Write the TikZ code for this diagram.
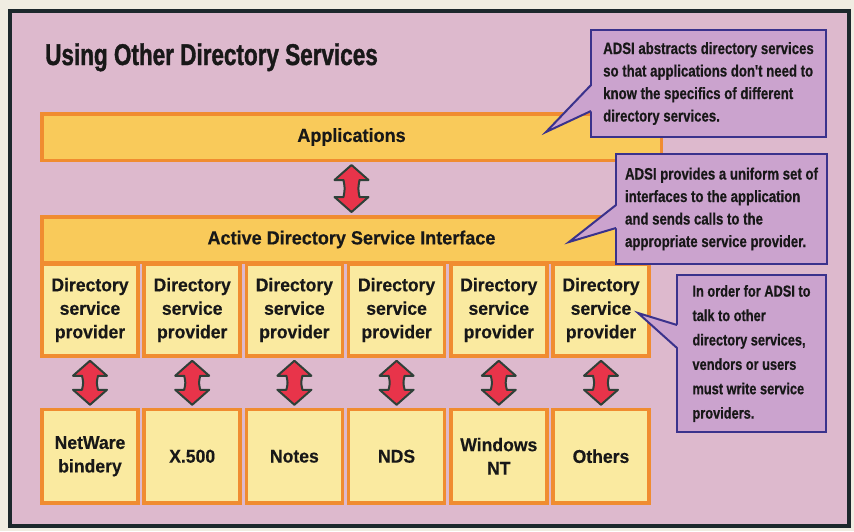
\documentclass[tikz,border=0pt]{standalone}
\usepackage{fontspec}
\setmainfont{Liberation Sans}
\newfontfamily\titlefont[FakeStretch=0.75, FakeBold=1.2]{Liberation Sans}
\newfontfamily\narrowfont[FakeStretch=0.8, FakeBold=0.6]{Liberation Sans}
\newfontfamily\boxfont[FakeStretch=0.95, FakeBold=0.4]{Liberation Sans}
\usepackage{tikz}
\usetikzlibrary{positioning, calc}
\definecolor{outercol}{RGB}{240,237,226}
\definecolor{framecol}{RGB}{28,40,44}
\definecolor{panelpink}{RGB}{221,185,205}
\definecolor{barfill}{RGB}{249,202,90}
\definecolor{barline}{RGB}{240,140,48}
\definecolor{boxfill}{RGB}{250,234,160}
\definecolor{notefill}{RGB}{203,163,206}
\definecolor{noteline}{RGB}{58,50,140}
\definecolor{arrred}{RGB}{232,52,74}
\definecolor{arrline}{RGB}{46,64,56}
\definecolor{inkcol}{RGB}{24,24,24}

% fat two-way arrow between two anchors
\newcommand{\fatarrow}[2]{%
  \draw[fatarr] let \p1=(#1), \p2=(#2) in
    (\x1,\y1-3pt) -- (\x1+17pt,\y1-18pt) -- (\x1+8pt,\y1-18pt)
    .. controls (\x1+6.5pt,0.5*\y1+0.5*\y2) .. (\x1+8pt,\y2+18pt)
    -- (\x1+17pt,\y2+18pt) -- (\x1,\y2+3pt) -- (\x1-17pt,\y2+18pt)
    -- (\x1-8pt,\y2+18pt)
    .. controls (\x1-6.5pt,0.5*\y1+0.5*\y2) .. (\x1-8pt,\y1-18pt)
    -- (\x1-17pt,\y1-18pt) -- cycle;}

% pointer of a note box: node, top and bottom of base, tip
\newcommand{\notetip}[4]{%
  \path[fill=notefill] ($(#1.north west)+(2.5,#2)$) -- (#4)
    -- ($(#1.north west)+(2.5,#3)$) -- cycle;
  \draw[noteline, line width=2pt] ($(#1.north west)+(1,#2)$) -- (#4)
    -- ($(#1.north west)+(1,#3)$);}

\tikzset{
  layerbar/.style={
    fill=barfill, draw=barline, line width=3.5pt,
    minimum width=619.5pt, text=inkcol,
    font=\boxfont\bfseries\fontsize{19}{22}\selectfont
  },
  provbox/.style={
    fill=boxfill, draw=barline, line width=3.5pt,
    minimum width=96pt, minimum height=92pt,
    align=center, inner sep=1pt, text=inkcol,
    font=\boxfont\bfseries\fontsize{18.5}{23.5}\selectfont
  },
  notebox/.style={
    fill=notefill, draw=noteline, line width=2pt,
    align=left, inner sep=0pt, text=inkcol,
    font=\narrowfont\bfseries\fontsize{16.5}{22.5}\selectfont
  },
  fatarr/.style={fill=arrred, draw=arrline, line width=2pt, line join=round}
}

\begin{document}
\begin{tikzpicture}[x=1pt, y=-1pt]
\useasboundingbox (0,0) rectangle (854,531);
\fill[outercol] (0,0) rectangle (854,531);
\draw[framecol, line width=4.5pt, fill=panelpink] (10,11) rectangle (849,526);

\node[anchor=base west, inner sep=0pt, text=inkcol,
  font=\titlefont\bfseries\fontsize{30}{34}\selectfont] (title)
  at (45,65) {Using Other Directory Services};

% layers
\node[layerbar, minimum height=46.5pt] (apps) at (351.5,137) {Applications};
\node[layerbar, minimum height=45.5pt] (adsi) at (351.5,239.5)
  {Active Directory Service Interface};

% providers and the directory services under them
\foreach \i in {1,...,6}
  \node[provbox] (prov\i) at ({90+102.2*(\i-1)},310) {Directory\\service\\provider};
\foreach \name [count=\i] in {NetWare\\bindery, X.500, Notes, NDS, Windows\\NT, Others}
  \node[provbox, minimum height=93.5pt, below=50pt of prov\i] (ds\i) {\name};

% arrows
\fatarrow{apps.south}{adsi.north}
\foreach \i in {1,...,6}
  {\fatarrow{prov\i.south}{ds\i.north}}

% notes
\node[notebox, minimum width=235pt, minimum height=107pt] (noteapps)
  at (708.5,83.5)
  {ADSI abstracts directory services\\so that applications don't need to\\
   know the specifics of different\\directory services.};
\node[notebox, minimum width=211pt, minimum height=110pt] (noteadsi)
  at (721.5,209)
  {ADSI provides a uniform set of\\interfaces to the application\\
   and sends calls to the\\appropriate service provider.};
\node[notebox, minimum width=149pt, minimum height=157pt,
  font=\narrowfont\bfseries\fontsize{16}{24.4}\selectfont] (noteprov)
  at (751.5,353.5)
  {In order for ADSI to\\talk to other\\directory services,\\
   vendors or users\\must write service\\providers.};

\coordinate (tipapps) at (546,132);
\coordinate (tipadsi) at (569,242);
\coordinate (tipprov) at (638,313);
\notetip{noteapps}{56}{82}{tipapps}
\notetip{noteadsi}{52}{75}{tipadsi}
\notetip{noteprov}{51}{74}{tipprov}
\end{tikzpicture}
\end{document}
